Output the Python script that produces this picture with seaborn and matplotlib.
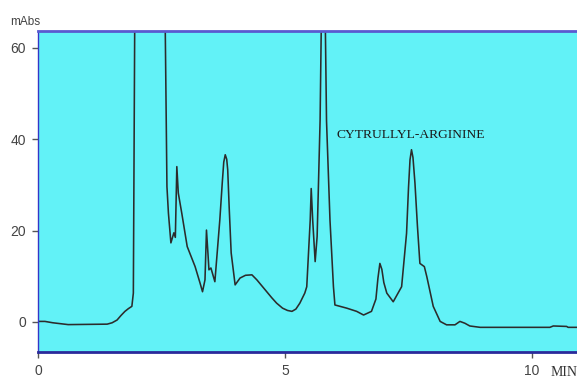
import matplotlib
matplotlib.use("Agg")
import matplotlib.pyplot as plt
import seaborn as sns
import pandas as pd

# Retention time (min) and absorbance (mAbs)
time_min = [0.00, 0.14, 0.30, 0.61, 1.40, 1.50, 1.60, 1.68, 1.76, 1.83, 1.90, 1.93,
            1.96, 2.57, 2.61, 2.64, 2.69, 2.75, 2.78, 2.81, 2.84, 2.91, 3.02, 3.10,
            3.18, 3.28, 3.33, 3.38, 3.41, 3.44, 3.46, 3.50, 3.58, 3.68, 3.73, 3.76,
            3.79, 3.82, 3.84, 3.87, 3.91, 3.99, 4.09, 4.20, 4.33, 4.43, 4.53, 4.63,
            4.73, 4.83, 4.95, 5.05, 5.14, 5.22, 5.30, 5.40, 5.44, 5.51, 5.53, 5.56,
            5.61, 5.65, 5.71, 5.74, 5.81, 5.84, 5.91, 5.98, 6.01, 6.25, 6.45, 6.59,
            6.75, 6.84, 6.88, 6.92, 6.96, 7.00, 7.06, 7.19, 7.36, 7.46, 7.50, 7.53,
            7.56, 7.59, 7.63, 7.68, 7.73, 7.82, 7.87, 8.00, 8.14, 8.27, 8.44, 8.54,
            8.64, 8.74, 8.95, 10.36, 10.43, 10.70, 10.73, 10.91]
absorbance = [0.1, 0.1, -0.2, -0.6, -0.5, -0.2, 0.4, 1.4, 2.3, 2.9, 3.4, 6.3,
              70.0, 70.0, 29.6, 23.8, 17.3, 19.5, 18.5, 34.0, 28.2, 23.8, 16.5, 14.3,
              12.1, 8.5, 6.6, 9.2, 20.1, 15.0, 11.4, 11.8, 8.8, 22.3, 30.5, 35.0,
              36.6, 35.6, 33.3, 25.0, 15.1, 8.1, 9.6, 10.2, 10.3, 9.2, 7.9, 6.6,
              5.3, 4.1, 3.0, 2.5, 2.3, 2.8, 4.1, 6.3, 7.7, 22.3, 29.2, 22.3,
              13.2, 18.7, 44.2, 70.0, 70.0, 44.0, 22.3, 7.7, 3.7, 3.0, 2.3, 1.5,
              2.3, 5.0, 9.5, 12.8, 11.5, 8.6, 6.3, 4.4, 7.7, 19.4, 29.5, 35.5,
              37.7, 36.0, 30.4, 21.0, 12.8, 12.1, 9.9, 3.4, 0.1, -0.65, -0.65, 0.1,
              -0.3, -0.9, -1.2, -1.2, -0.9, -1.0, -1.2, -1.2]
x_ticks = [0, 5, 10]
y_ticks = [0, 20, 40, 60]
peak_label = "CYTRULLYL-ARGININE"

df = pd.DataFrame({"t": time_min, "a": absorbance})

sns.set_style("white")
fig = plt.figure(figsize=(5.77, 3.81), dpi=100)
ax = fig.add_axes([38/577, 29/381, 1 - 38/577, 321/381])
ax.set_facecolor("#62F2F7")

sns.lineplot(data=df, x="t", y="a", ax=ax, color="#2c2c2c", linewidth=1.15,
             estimator=None, sort=False)

ax.set_xlim(0, 10.91)
ax.set_ylim(-6.6, 63.7)
ax.set_xticks(x_ticks)
ax.set_yticks(y_ticks)
ax.set_xlabel("")
ax.set_ylabel("")
ax.tick_params(axis="both", direction="out", length=4.5, width=1, color="#555555",
               labelcolor="#444444", labelsize=10, pad=4, bottom=True, left=True)
for lbl in ax.get_xticklabels() + ax.get_yticklabels():
    lbl.set_fontfamily("Liberation Sans")

ax.spines["right"].set_visible(False)
ax.spines["top"].set_color("#5A5AD0")
ax.spines["top"].set_linewidth(2)
ax.spines["bottom"].set_color("#2A2A9A")
ax.spines["bottom"].set_linewidth(2)
ax.spines["left"].set_color("#3535C8")
ax.spines["left"].set_linewidth(1)

ax.text(6.05, 40.9, peak_label, fontfamily="Liberation Serif", fontsize=9.7,
        color="#1a1a1a", va="center", ha="left")

fig.text(10/577, 1 - 22/381, "mAbs", fontfamily="Liberation Sans", fontsize=8.5,
         color="#444444", va="center", ha="left")
fig.text(551/577, 1 - 372/381, "MIN", fontfamily="Liberation Serif", fontsize=10,
         color="#333333", va="center", ha="left")

fig.savefig("out.png", dpi=100)
